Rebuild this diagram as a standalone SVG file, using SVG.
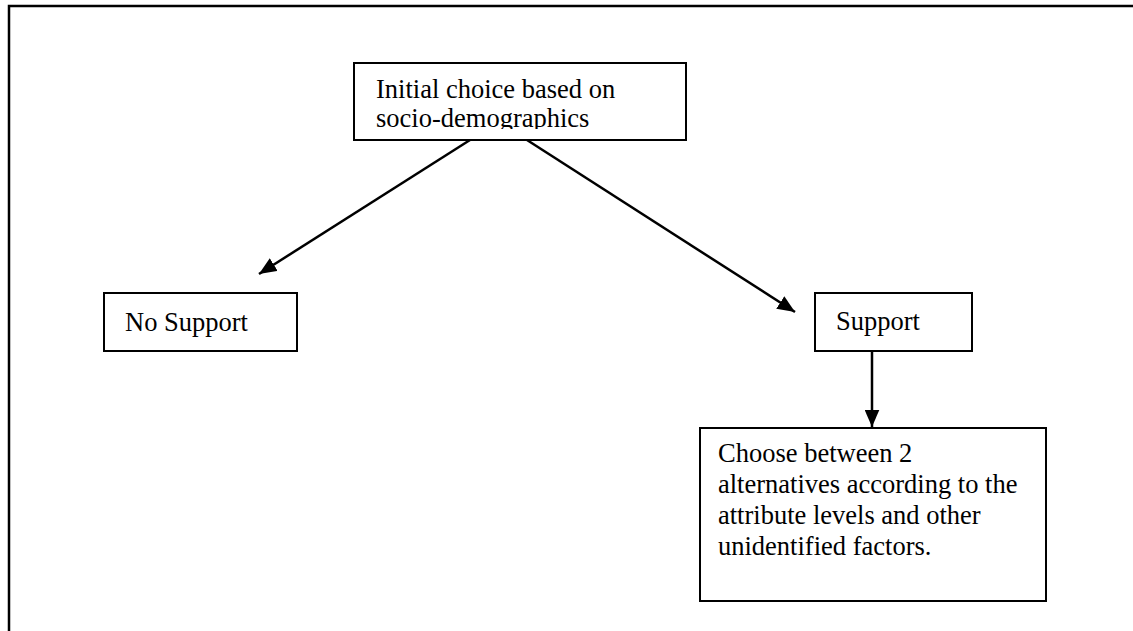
<svg xmlns="http://www.w3.org/2000/svg" width="1133" height="631" viewBox="0 0 1133 631">
<style>
  .box { fill: #ffffff; stroke: #000000; stroke-width: 2; }
  .lbl { font-family: "Liberation Serif", "Times New Roman", serif; font-size: 26.5px; fill: #000000; }
  .conn { stroke: #000000; stroke-width: 2.5; fill: none; marker-end: url(#ah); }
</style>
<defs>
  <marker id="ah" markerWidth="7" markerHeight="6" refX="7" refY="3" orient="auto" markerUnits="strokeWidth">
    <path d="M0,0 L7,3 L0,6 Z" fill="#000000"/>
  </marker>
  <clipPath id="clipTop"><rect x="354" y="63" width="332" height="66"/></clipPath>
</defs>
<rect width="1133" height="631" fill="#ffffff"/>
<path d="M9,631 V6 H1133" fill="none" stroke="#000000" stroke-width="2.5"/>
<g id="connectors">
  <line class="conn" x1="470" y1="140" x2="259" y2="274"/>
  <line class="conn" x1="527" y1="140" x2="795" y2="312"/>
  <line class="conn" x1="872" y1="351" x2="872" y2="427"/>
</g>
<g id="node-initial">
  <rect class="box" x="354" y="63" width="332" height="77"/>
  <g clip-path="url(#clipTop)">
    <text class="lbl" x="376" y="98">Initial choice based on</text>
    <text class="lbl" x="376" y="127">socio-demographics</text>
  </g>
</g>
<g id="node-nosupport">
  <rect class="box" x="104" y="293" width="193" height="58"/>
  <text class="lbl" x="125" y="331">No Support</text>
</g>
<g id="node-support">
  <rect class="box" x="815" y="293" width="157" height="58"/>
  <text class="lbl" x="836" y="330">Support</text>
</g>
<g id="node-choose">
  <rect class="box" x="700" y="428" width="346" height="173"/>
  <text class="lbl" x="718" y="462">Choose between 2</text>
  <text class="lbl" x="718" y="493">alternatives according to the</text>
  <text class="lbl" x="718" y="524">attribute levels and other</text>
  <text class="lbl" x="718" y="555">unidentified factors.</text>
</g>
</svg>
